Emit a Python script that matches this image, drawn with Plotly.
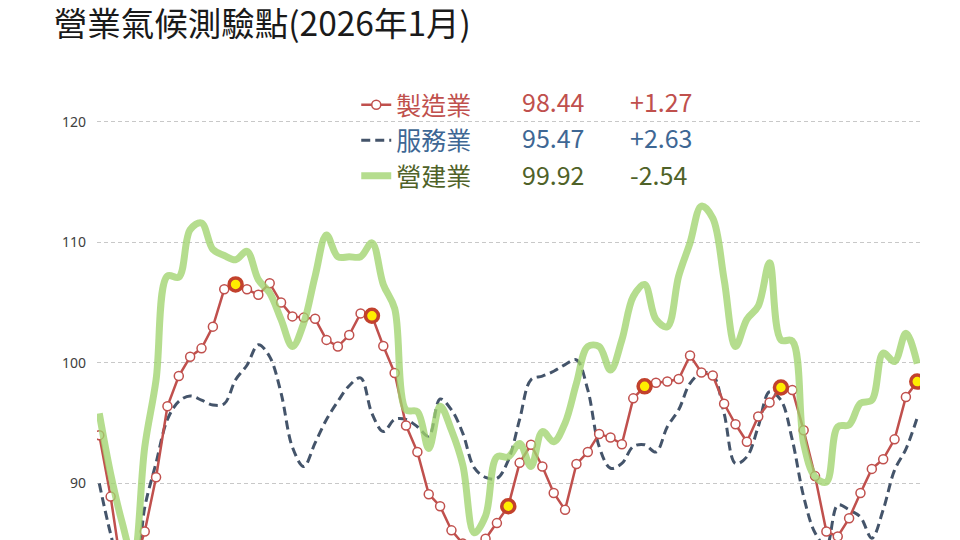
import plotly.graph_objects as go

# 2020/01 ... 2026/01, one point per month
months = [f"{y}/{m:02d}" for y in range(2020, 2027) for m in range(1, 13)][:73]

manufacturing = [
    94.0, 88.9, 82.6, 83.0, 86.0, 90.5, 96.4, 98.9, 100.5, 101.2, 103.0, 106.1,
    106.5, 106.1, 105.65, 106.6, 105.0, 103.85, 103.75, 103.65, 101.9, 101.35, 102.3, 104.1,
    103.9, 101.4, 99.15, 94.8, 92.6, 89.1, 88.1, 86.1, 85.0, 84.6, 85.4, 86.7,
    88.1, 91.7, 93.2, 91.4, 89.2, 87.8, 91.6, 92.6, 94.1, 93.8, 93.25, 97.05,
    98.05, 98.35, 98.45, 98.65, 100.6, 99.2, 98.95, 96.6, 94.9, 93.45, 95.55, 96.7,
    97.95, 97.75, 94.4, 90.6, 86.0, 85.6, 87.1, 89.2, 91.2, 92.0, 93.65, 97.17,
    98.44,
]
services = [
    90.0, 85.8, 82.5, 81.5, 88.0, 91.7, 95.3, 96.8, 97.25, 96.9, 96.5, 96.6,
    98.6, 99.8, 101.5, 100.5, 97.5, 93.0, 91.4, 93.35, 95.3, 96.8, 98.1, 98.75,
    95.8, 94.3, 95.3, 95.3, 94.7, 93.9, 97.0, 96.1, 94.15, 91.3, 90.5, 90.4,
    91.9, 95.3, 98.6, 98.9, 99.3, 99.85, 100.25, 97.75, 93.05, 91.25, 91.65, 93.05,
    93.2, 92.6, 94.7, 96.1, 98.3, 99.15, 99.0, 95.8, 91.65, 92.2, 94.7, 97.6,
    96.9, 93.6, 88.9, 85.9, 84.8, 88.2, 87.8, 87.2, 85.45, 87.8, 91.1, 92.84,
    95.47,
]
construction = [
    95.8, 90.8, 86.8, 83.8, 93.0, 98.6, 107.2, 107.1, 111.05, 111.6, 109.4, 108.9,
    108.55, 109.25, 106.9, 105.8, 103.6, 101.35, 103.3, 107.2, 110.6, 108.8, 108.8, 108.8,
    109.95, 106.5, 104.5, 96.1, 95.95, 92.9, 96.4, 94.4, 91.5, 85.9, 87.3, 92.2,
    92.2, 93.3, 91.4, 94.3, 93.45, 95.0, 98.3, 101.35, 101.35, 99.4, 101.9, 105.5,
    106.5, 103.6, 103.0, 107.2, 109.95, 113.0, 112.0, 106.9, 101.35, 103.6, 104.7, 108.3,
    101.9, 101.8, 93.3, 90.55, 90.1, 94.7, 94.85, 96.65, 96.9, 100.8, 100.1, 102.46,
    99.92,
]

highlight_months = ["2021/01", "2022/01", "2023/01", "2024/01", "2025/01", "2026/01"]

series_names = ["製造業", "服務業", "營建業"]
latest_values = ["98.44", "95.47", "99.92"]
latest_changes = ["+1.27", "+2.63", "-2.54"]
text_colors = ["#c0504d", "#3e6794", "#4f6228"]

y_ticks = [90, 100, 110, 120]

RED = "#c0504d"
BLUE = "#44546a"
GREEN = "rgba(160, 212, 110, 0.78)"
FONT = "Noto Sans CJK TC"

fig = go.Figure()

fig.add_trace(go.Scatter(
    x=months, y=services,
    mode="lines",
    line={"color": BLUE, "width": 3, "dash": "9px,5px", "shape": "spline", "smoothing": 1.0},
    name=f"<span style='color:{text_colors[1]}'>{series_names[1]}</span>",
    legendrank=2,
))

fig.add_trace(go.Scatter(
    x=months, y=manufacturing,
    mode="lines+markers",
    line={"color": RED, "width": 2.5},
    marker={"symbol": "circle", "size": 9, "color": "white", "line": {"color": RED, "width": 1.5}},
    name=f"<span style='color:{text_colors[0]}'>{series_names[0]}</span>",
    legendrank=1,
))

highlight_y = [manufacturing[months.index(m)] for m in highlight_months]
fig.add_trace(go.Scatter(
    x=highlight_months, y=highlight_y,
    mode="markers",
    marker={"symbol": "circle", "size": 13, "color": "#ffee00", "line": {"color": "#c2412c", "width": 3.5}},
    showlegend=False,
))

fig.add_trace(go.Scatter(
    x=months, y=construction,
    mode="lines",
    line={"color": GREEN, "width": 7, "shape": "spline", "smoothing": 1.0},
    name=f"<span style='color:{text_colors[2]}'>{series_names[2]}</span>",
    legendrank=3,
))

# latest value and monthly change beside each legend row
row_y = [0.9146, 0.8396, 0.7625]
for i in range(3):
    fig.add_annotation(
        x=0.514, y=row_y[i], xref="paper", yref="paper",
        text=latest_values[i], showarrow=False, xanchor="left", yanchor="middle",
        font={"family": FONT, "size": 25, "color": text_colors[i]},
    )
    fig.add_annotation(
        x=0.645, y=row_y[i], xref="paper", yref="paper",
        text=latest_changes[i], showarrow=False, xanchor="left", yanchor="middle",
        font={"family": FONT, "size": 25, "color": text_colors[i]},
    )

fig.update_layout(
    width=960,
    height=540,
    margin={"l": 97, "r": 40, "t": 60, "b": 0},
    paper_bgcolor="white",
    plot_bgcolor="white",
    title={
        "text": "營業氣候測驗點(2026年1月)",
        "x": 0.056, "xref": "container", "xanchor": "left",
        "y": 0.955, "yref": "container", "yanchor": "middle",
        "font": {"family": FONT, "size": 33.5, "color": "#1a1a1a"},
    },
    legend={
        "x": 0.315, "xanchor": "left",
        "y": 0.954, "yanchor": "top",
        "bgcolor": "rgba(255,255,255,0)",
        "font": {"family": FONT, "size": 25},
        "traceorder": "normal",
    },
    showlegend=True,
)

fig.update_xaxes(
    type="category",
    range=[-0.2, 72.24],
    showticklabels=False,
    showgrid=False,
    showline=False,
    zeroline=False,
    ticks="",
)
fig.update_yaxes(
    range=[85.3, 125.12],
    tickvals=y_ticks,
    showgrid=True,
    gridcolor="#c8c8c8",
    gridwidth=1,
    griddash="4px,3px",
    zeroline=False,
    showline=False,
    ticks="",
    ticklabelstandoff=10,
    tickfont={"family": "Noto Sans", "size": 14, "color": "#404040"},
)

# the page's default body margin would push the figure 8px off the window edge
fig.write_html(
    "out.html",
    config={"displayModeBar": False},
    post_script="document.body.style.margin = '0';",
)
